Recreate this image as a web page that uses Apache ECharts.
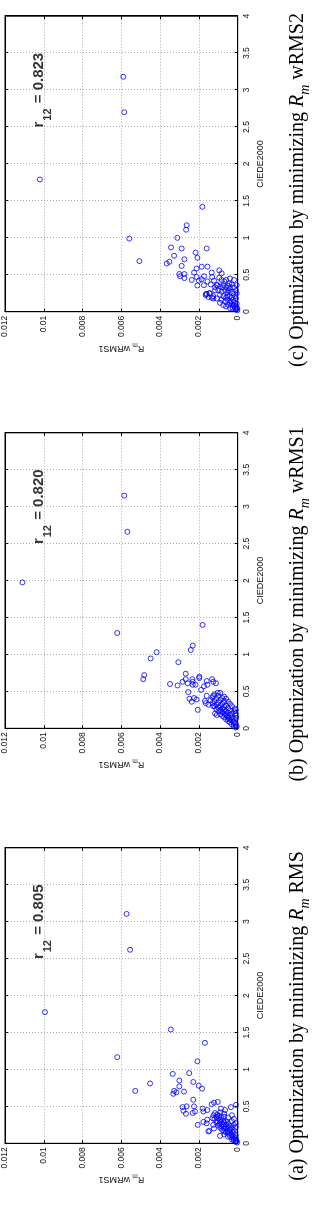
<!DOCTYPE html>
<html>
<head>
<meta charset="utf-8">
<script src="https://cdn.jsdelivr.net/npm/echarts@6/dist/echarts.min.js"></script>
<style>
  html, body { margin: 0; padding: 0; background: #fff; overflow: hidden; }
  /* the figure is laid out landscape and turned a quarter turn counter-clockwise */
  #main {
    position: absolute; left: 0; top: 0;
    width: 1232px; height: 330px;
    transform-origin: 0 0;
    transform: translate(0, 1232px) rotate(-90deg);
  }
</style>
</head>
<body>
<div id="main"></div>
<script>
// axis ranges / ticks
var ciedeTicks = [0, 0.5, 1, 1.5, 2, 2.5, 3, 3.5, 4];
var rTicks = [0, 0.002, 0.004, 0.006, 0.008, 0.01, 0.012];

// panel captions and correlation values
var captionLetters = ['(a)', '(b)', '(c)'];
var captionMetric = ['RMS', 'wRMS1', 'wRMS2'];
var r12Values = ['0.805', '0.820', '0.823'];
var r12Pos = [2.5, 0.0106];

// [CIEDE2000, R_m wRMS1] pairs
var pointsRMS = [
  [1.776, 0.00994], [3.105, 0.00573], [2.62, 0.00555], [1.166, 0.00621], [0.71, 0.00528], [0.81, 0.00452],
  [1.54, 0.00345], [1.36, 0.00169], [1.11, 0.00208],
  [0.94, 0.00335], [0.95, 0.0025], [0.85, 0.00301], [0.83, 0.00229], [0.78, 0.00201], [0.74, 0.00184],
  [0.77, 0.00301], [0.70, 0.00277], [0.71, 0.00328], [0.69, 0.00316], [0.67, 0.00332], [0.59, 0.00229],
  [0.50, 0.00263], [0.49, 0.00284], [0.44, 0.0028], [0.40, 0.00267], [0.50, 0.00225], [0.43, 0.0022],
  [0.41, 0.00232], [0.47, 0.0018], [0.43, 0.00177], [0.45, 0.00157], [0.53, 0.00134], [0.55, 0.00122],
  [0.56, 0.00103], [0.47, 0.00086], [0.45, 0.00065], [0.49, 0.00035], [0.52, 0.00009], [0.25, 0.00206],
  [0.29, 0.00177], [0.32, 0.00157], [0.17, 0.00146], [0.20, 0.00122], [0.10, 0.00091], [0.27, 0.0016],
  [0.16, 0.00151], [0.25, 0.00126],
  [0.41, 0.00117], [0.39, 0.00105], [0.38, 0.00125], [0.37, 0.00095], [0.36, 0.0011], [0.35, 0.00085],
  [0.34, 0.001], [0.33, 0.0012], [0.32, 0.0009], [0.31, 0.00075], [0.3, 0.00105], [0.3, 0.0006],
  [0.29, 0.0009], [0.28, 0.0011], [0.28, 0.0007], [0.27, 0.0005], [0.26, 0.00095], [0.26, 0.0008],
  [0.25, 0.0006], [0.24, 0.001], [0.24, 0.0004], [0.23, 0.0007], [0.23, 0.00085], [0.22, 0.0005],
  [0.21, 0.0009], [0.21, 0.0003], [0.2, 0.0007], [0.2, 0.0006], [0.19, 0.0004], [0.18, 0.0008],
  [0.18, 0.0002], [0.17, 0.0005], [0.16, 0.0007], [0.16, 0.0003], [0.15, 0.0006], [0.14, 0.0004],
  [0.14, 0.0002], [0.13, 0.0005], [0.12, 0.0003], [0.12, 0.0007], [0.11, 0.0001], [0.1, 0.0004],
  [0.09, 0.0002], [0.09, 0.0005], [0.08, 0.0003], [0.07, 0.0001], [0.06, 0.0002], [0.05, 0.0003],
  [0.05, 0.0001], [0.04, 0.0002], [0.03, 0.00005], [0.02, 0.0001], [0.01, 0.00003], [0.38, 0.0003],
  [0.35, 0.0005], [0.33, 0.0002], [0.3, 0.0003], [0.27, 0.0001], [0.25, 0.0002], [0.22, 0.0001],
  [0.4, 0.0007], [0.36, 0.0007], [0.34, 0.0013], [0.42, 0.0009]
];

var pointsWRMS1 = [
  [1.975, 0.0111], [3.15, 0.00585], [2.66, 0.00569], [1.29, 0.00621], [1.03, 0.00418], [0.945, 0.00449],
  [0.72, 0.00482], [0.665, 0.00487], [0.6, 0.00349], [0.895, 0.00306], [0.58, 0.0031], [0.63, 0.00284],
  [0.74, 0.00268], [0.665, 0.00268], [0.61, 0.00258], [0.49, 0.00255], [0.40, 0.00249], [1.06, 0.00242],
  [1.12, 0.00232], [0.665, 0.00234], [0.63, 0.00232], [0.59, 0.00232], [0.36, 0.00237], [0.41, 0.00225],
  [0.59, 0.00218], [0.39, 0.00212], [0.25, 0.00206], [0.70, 0.00198], [0.68, 0.00198], [1.40, 0.00181],
  [0.52, 0.00189], [0.57, 0.00174], [0.37, 0.00169], [0.34, 0.00165], [0.64, 0.0016], [0.44, 0.0016],
  [0.59, 0.00156], [0.32, 0.00151], [0.665, 0.00132], [0.63, 0.00126], [0.61, 0.00112], [0.48, 0.00103],
  [0.44, 0.00126], [0.30, 0.00126], [0.20, 0.00117], [0.18, 0.00108],
  [0.46, 0.0012], [0.44, 0.001], [0.42, 0.0013], [0.41, 0.0008], [0.4, 0.0011], [0.38, 0.0014],
  [0.38, 0.0009], [0.37, 0.0012], [0.36, 0.0007], [0.35, 0.001], [0.34, 0.0013], [0.33, 0.0008],
  [0.32, 0.0011], [0.31, 0.0006], [0.3, 0.0009], [0.3, 0.0012], [0.29, 0.0007], [0.28, 0.001],
  [0.27, 0.0005], [0.27, 0.0008], [0.26, 0.0011], [0.25, 0.0007], [0.25, 0.0009], [0.24, 0.0004],
  [0.23, 0.0006], [0.23, 0.001], [0.22, 0.0008], [0.21, 0.0005], [0.2, 0.0007], [0.2, 0.0003],
  [0.19, 0.0009], [0.18, 0.0006], [0.18, 0.0004], [0.17, 0.0008], [0.16, 0.0005], [0.15, 0.0003],
  [0.15, 0.0007], [0.14, 0.0005], [0.13, 0.0002], [0.12, 0.0004], [0.12, 0.0006], [0.11, 0.0003],
  [0.1, 0.0005], [0.09, 0.0002], [0.08, 0.0004], [0.07, 0.0002], [0.06, 0.0001], [0.05, 0.0003],
  [0.04, 0.0001], [0.03, 0.0002], [0.02, 0.00005], [0.01, 0.0001], [0.27, 0.00015], [0.25, 0.0001],
  [0.23, 0.00018], [0.2, 0.0001], [0.17, 0.0001], [0.14, 0.00008], [0.3, 0.0003], [0.33, 0.0004],
  [0.36, 0.0005], [0.4, 0.0006], [0.43, 0.0007], [0.48, 0.0009]
];

var pointsWRMS2 = [
  [1.79, 0.0102], [3.18, 0.0059], [2.70, 0.00585], [0.99, 0.00559], [0.685, 0.00507], [0.653, 0.00366],
  [0.676, 0.00352], [0.87, 0.00344], [0.757, 0.00328], [1.0, 0.00311], [0.856, 0.00289], [0.62, 0.00289],
  [0.51, 0.00301], [0.48, 0.00297], [0.71, 0.00275], [0.51, 0.00275], [0.455, 0.00275], [1.17, 0.00263],
  [1.11, 0.00266], [0.43, 0.00237], [0.53, 0.00225], [0.80, 0.00217], [0.585, 0.00212], [0.73, 0.00208],
  [0.47, 0.00212], [0.355, 0.00208], [0.42, 0.002], [1.42, 0.00182], [0.61, 0.00186], [0.44, 0.00186],
  [0.48, 0.00174], [0.36, 0.00174], [0.856, 0.0016], [0.61, 0.00156], [0.41, 0.00156], [0.24, 0.0016],
  [0.25, 0.00146], [0.225, 0.00165], [0.37, 0.00139], [0.53, 0.00134], [0.47, 0.00132], [0.18, 0.00126],
  [0.42, 0.00122], [0.33, 0.00117], [0.36, 0.00108], [0.56, 0.00095], [0.52, 0.00083], [0.46, 0.00095],
  [0.43, 0.00083], [0.41, 0.00069],
  [0.36, 0.00105], [0.34, 0.00091], [0.36, 0.00074], [0.33, 0.0006], [0.35, 0.00048], [0.32, 0.0004],
  [0.29, 0.001], [0.27, 0.00083], [0.29, 0.00065], [0.26, 0.00053], [0.27, 0.00036], [0.25, 0.00022],
  [0.23, 0.00091], [0.21, 0.00074], [0.19, 0.0006], [0.21, 0.00043], [0.19, 0.00031], [0.21, 0.00014],
  [0.16, 0.00083], [0.14, 0.00065], [0.16, 0.00052], [0.14, 0.00036], [0.16, 0.00022], [0.18, 0.00009],
  [0.09, 0.00048], [0.10, 0.00031], [0.09, 0.00017], [0.11, 0.00005], [0.06, 0.00005], [0.05, 0.00014],
  [0.02, 0.00002], [0.25, 0.00143], [0.21, 0.00126], [0.29, 0.00117], [0.18, 0.00108], [0.19, 0.00134],
  [0.24, 0.00163], [0.2, 0.00151], [0.12, 0.00091], [0.09, 0.00074], [0.07, 0.0006], [0.05, 0.0004],
  [0.05, 0.00026], [0.29, 0.00048], [0.21, 0.00053], [0.38, 0.00043], [0.37, 0.00031], [0.33, 0.00019],
  [0.29, 0.00009], [0.25, 0.00005], [0.33, 0.00077], [0.43, 0.00019], [0.45, 0.0004], [0.43, 0.0006],
  [0.36, 0.00005], [0.03, 0.0001], [0.04, 0.00002], [0.13, 0.0002], [0.12, 0.0004], [0.08, 0.0002]
];

var panelPoints = [pointsRMS, pointsWRMS1, pointsWRMS2];

// layout of the landscape figure (before rotation)
var gridLefts = [88.7, 503.7, 920.3];
var gridWidth = 295.5;
var gridTop = 5;
var gridHeight = 232.7;
var captionCenters = [216, 628, 1042];

var sansFont = 'Liberation Sans, Arial, sans-serif';
var serifFont = 'Liberation Serif, Times New Roman, serif';

var grids = [], xAxes = [], yAxes = [], series = [], titles = [];

for (var i = 0; i < 3; i++) {
  grids.push({
    left: gridLefts[i], top: gridTop, width: gridWidth, height: gridHeight,
    show: true, borderColor: '#000', borderWidth: 1, backgroundColor: '#fff'
  });

  // bottom CIEDE axis
  xAxes.push({
    type: 'value', gridIndex: i,
    min: ciedeTicks[0], max: ciedeTicks[ciedeTicks.length - 1], interval: ciedeTicks[1] - ciedeTicks[0],
    name: 'CIEDE2000', nameLocation: 'middle', nameGap: 13,
    nameTextStyle: { fontFamily: sansFont, fontSize: 9, color: '#111' },
    axisLine: { onZero: false, lineStyle: { color: '#000', width: 1 } },
    axisTick: { inside: true, length: 3, lineStyle: { color: '#000' } },
    axisLabel: { fontFamily: sansFont, fontSize: 8.5, color: '#111', margin: 4 },
    splitLine: { show: true, lineStyle: { color: '#aaa', width: 1, type: [1, 2] } }
  });
  // mirrored ticks on top
  xAxes.push({
    type: 'value', gridIndex: i, position: 'top',
    min: ciedeTicks[0], max: ciedeTicks[ciedeTicks.length - 1], interval: ciedeTicks[1] - ciedeTicks[0],
    axisLine: { onZero: false, lineStyle: { color: '#000', width: 1 } },
    axisTick: { inside: true, length: 3, lineStyle: { color: '#000' } },
    axisLabel: { show: false }, splitLine: { show: false }
  });

  // left R_m axis
  yAxes.push({
    type: 'value', gridIndex: i,
    min: rTicks[0], max: rTicks[rTicks.length - 1], interval: rTicks[1] - rTicks[0],
    name: '{n|R}{ns|m}{n| wRMS1}', nameLocation: 'middle', nameGap: 31,
    nameTextStyle: {
      color: '#111',
      rich: {
        n: { fontFamily: sansFont, fontSize: 9, color: '#111', lineHeight: 10, verticalAlign: 'top' },
        ns: { fontFamily: sansFont, fontSize: 6.5, color: '#111', lineHeight: 7, padding: [5, 0, 0, 0], verticalAlign: 'top' }
      }
    },
    axisLine: { onZero: false, lineStyle: { color: '#000', width: 1 } },
    axisTick: { inside: true, length: 3, lineStyle: { color: '#000' } },
    axisLabel: {
      fontFamily: sansFont, fontSize: 8.5, color: '#111', margin: 4,
      formatter: function (v) { return String(+v.toFixed(3)); }
    },
    splitLine: { show: true, lineStyle: { color: '#aaa', width: 1, type: [1, 2] } }
  });
  // mirrored ticks on the right
  yAxes.push({
    type: 'value', gridIndex: i, position: 'right',
    min: rTicks[0], max: rTicks[rTicks.length - 1], interval: rTicks[1] - rTicks[0],
    axisLine: { onZero: false, lineStyle: { color: '#000', width: 1 } },
    axisTick: { inside: true, length: 3, lineStyle: { color: '#000' } },
    axisLabel: { show: false }, splitLine: { show: false }
  });

  series.push({
    type: 'scatter', xAxisIndex: 2 * i, yAxisIndex: 2 * i,
    data: panelPoints[i],
    symbol: 'circle', symbolSize: 5,
    itemStyle: { color: 'rgba(0,0,0,0)', borderColor: '#0000ff', borderWidth: 1 },
    silent: true, animation: false
  });

  // r12 annotation
  series.push({
    type: 'scatter', xAxisIndex: 2 * i, yAxisIndex: 2 * i,
    data: [r12Pos], symbolSize: 1,
    itemStyle: { color: 'rgba(0,0,0,0)' },
    label: {
      show: true, position: [0, 0], align: 'left', verticalAlign: 'top',
      formatter: '{m|r}{s|12}{m| = ' + r12Values[i] + '}',
      rich: {
        m: { fontFamily: sansFont, fontWeight: 'bold', fontSize: 15, color: '#000', lineHeight: 16, verticalAlign: 'top' },
        s: { fontFamily: sansFont, fontWeight: 'bold', fontSize: 11, color: '#000', lineHeight: 11, padding: [11, 1, 0, 1], verticalAlign: 'top' }
      }
    },
    silent: true, animation: false
  });

  titles.push({
    text: '{t|' + captionLetters[i] + ' Optimization by minimizing }{i|R}{sub|m}{t| ' + captionMetric[i] + '}',
    left: captionCenters[i], top: 288, textAlign: 'center', padding: 0,
    textStyle: {
      fontWeight: 'normal',
      rich: {
        t: { fontFamily: serifFont, fontWeight: 'normal', fontSize: 20, color: '#000', lineHeight: 22, verticalAlign: 'top' },
        i: { fontFamily: serifFont, fontWeight: 'normal', fontStyle: 'italic', fontSize: 20, color: '#000', lineHeight: 22, verticalAlign: 'top' },
        sub: { fontFamily: serifFont, fontWeight: 'normal', fontStyle: 'italic', fontSize: 14, color: '#000', lineHeight: 14, padding: [10, 0, 0, 0], verticalAlign: 'top' }
      }
    }
  });
}

var myChart = echarts.init(document.getElementById('main'));
myChart.setOption({
  backgroundColor: '#fff',
  animation: false,
  title: titles,
  grid: grids,
  xAxis: xAxes,
  yAxis: yAxes,
  series: series
});
</script>
</body>
</html>
